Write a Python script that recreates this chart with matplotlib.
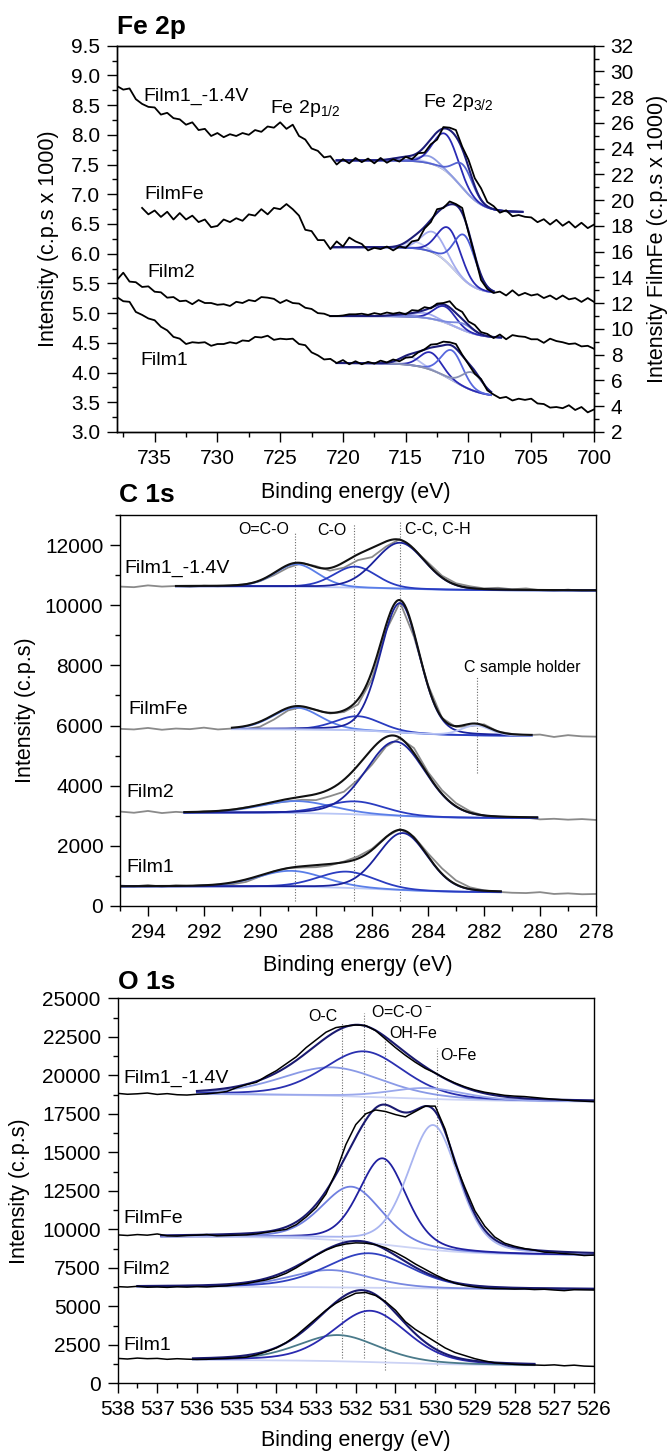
import numpy as np
import matplotlib
matplotlib.use("Agg")
import matplotlib.pyplot as plt
from matplotlib.ticker import MultipleLocator

plt.rcParams["font.family"] = ["Liberation Sans", "DejaVu Sans"]
plt.rcParams["mathtext.fontset"] = "custom"
plt.rcParams["mathtext.rm"] = "Liberation Sans"
plt.rcParams["mathtext.it"] = "Liberation Sans:italic"
plt.rcParams["axes.linewidth"] = 1.0

# ---------------- Fe 2p (measured, step 0.5 eV) ----------------
fe_energy = np.arange(738.0, 699.9, -0.5)
fe_film1v_raw = [8.82, 8.76, 8.78, 8.60, 8.52, 8.47, 8.46, 8.34, 8.37, 8.28,
                 8.26, 8.17, 8.21, 8.08, 8.10, 7.98, 8.03, 7.96, 8.01, 7.98,
                 8.03, 8.00, 8.08, 8.05, 8.14, 8.12, 8.21, 8.10, 8.17, 7.98,
                 7.92, 7.77, 7.73, 7.62, 7.64, 7.50, 7.59, 7.52, 7.61, 7.54,
                 7.60, 7.52, 7.61, 7.53, 7.59, 7.55, 7.63, 7.59, 7.69, 7.70,
                 7.84, 7.92, 8.13, 8.12, 8.08, 7.80, 7.58, 7.27, 7.10, 6.87,
                 6.80, 6.69, 6.73, 6.63, 6.65, 6.62, 6.61, 6.53, 6.58, 6.49,
                 6.57, 6.47, 6.54, 6.44, 6.52, 6.43, 6.49]
# FilmFe starts at 736 eV, right axis
fe_filmfe_raw = [19.4, 18.9, 19.2, 18.7, 19.1, 18.5, 19.0, 18.5, 18.8, 18.3,
                 18.5, 17.9, 18.0, 18.5, 18.3, 18.6, 18.4, 18.9, 18.8, 19.3,
                 18.9, 19.4, 19.3, 19.7, 19.3, 18.8, 17.7, 17.6, 16.9, 16.9,
                 16.2, 16.8, 16.4, 17.1, 16.8, 16.6, 16.1, 16.3, 16.2, 16.4,
                 16.1, 16.4, 16.3, 16.8, 16.9, 17.8, 18.3, 19.3, 19.4, 19.9,
                 19.7, 19.4, 17.5, 15.7, 13.8, 13.1, 12.8, 12.9, 12.6, 13.0,
                 12.6, 12.8, 12.6, 12.7, 12.4, 12.6, 12.3, 12.6, 12.3, 12.4,
                 12.1, 12.4, 12.1]
fe_film2_raw = [5.56, 5.68, 5.53, 5.52, 5.44, 5.45, 5.36, 5.35, 5.26, 5.27,
                5.20, 5.21, 5.15, 5.22, 5.17, 5.17, 5.14, 5.15, 5.12, 5.19,
                5.17, 5.22, 5.20, 5.27, 5.26, 5.24, 5.17, 5.22, 5.17, 5.16,
                5.09, 5.07, 5.00, 4.99, 4.95, 4.95, 4.96, 4.98, 4.98, 4.99,
                4.97, 5.00, 4.98, 5.01, 4.99, 5.01, 4.98, 5.05, 5.04, 5.10,
                5.08, 5.16, 5.17, 5.20, 5.08, 5.02, 4.86, 4.80, 4.68, 4.65,
                4.58, 4.64, 4.56, 4.63, 4.61, 4.60, 4.56, 4.56, 4.50, 4.57,
                4.53, 4.51, 4.48, 4.49, 4.44, 4.45, 4.40]
fe_film1_raw = [5.27, 5.20, 5.19, 5.02, 4.97, 4.91, 4.88, 4.77, 4.71, 4.60,
                4.57, 4.48, 4.51, 4.50, 4.51, 4.45, 4.48, 4.48, 4.51, 4.49,
                4.54, 4.53, 4.60, 4.59, 4.62, 4.55, 4.57, 4.56, 4.57, 4.48,
                4.46, 4.34, 4.29, 4.22, 4.23, 4.16, 4.21, 4.14, 4.19, 4.14,
                4.18, 4.15, 4.20, 4.17, 4.22, 4.19, 4.25, 4.26, 4.34, 4.39,
                4.47, 4.48, 4.52, 4.51, 4.48, 4.30, 4.14, 3.98, 3.89, 3.70,
                3.63, 3.57, 3.59, 3.53, 3.56, 3.54, 3.56, 3.48, 3.47, 3.41,
                3.42, 3.40, 3.45, 3.37, 3.42, 3.33, 3.38]

# fit results: background (high, low, centre, width), peaks (centre, height, fwhm)
fe_range = [(720.5, 705.7), (720.8, 708.0), (721.0, 707.4), (720.5, 708.2)]
fe_bg = [(7.57, 6.70, 710.6, 0.9), (16.35, 12.75, 711.1, 0.85),
         (4.95, 4.58, 711.0, 1.0), (4.16, 3.58, 711.3, 1.2)]
fe_peaks = [
    [(715.0, 0.06, 2.2), (713.2, 0.12, 1.8), (711.8, 0.62, 2.3), (710.4, 0.40, 1.8)],
    [(714.3, 0.5, 1.8), (712.8, 1.6, 2.2), (711.5, 2.8, 2.2), (710.3, 3.5, 2.0)],
    [(715.3, 0.03, 2.0), (713.5, 0.08, 2.0), (711.9, 0.27, 2.0), (710.4, 0.11, 1.8)],
    [(714.7, 0.14, 1.9), (713.0, 0.29, 2.0), (711.3, 0.50, 2.0), (709.7, 0.30, 1.9)],
]
fe_colors = [
    ["#c4cbf2", "#8d9be2", "#2a2ab4", "#5563d2"],
    ["#c4cbf2", "#a3abee", "#2a2ab4", "#4a5ad4"],
    ["#c4cbf2", "#a3abee", "#2a2ab4", "#7b8ade"],
    ["#b4bcf0", "#2a2ab4", "#5868de", "#8890b4"],
]
fe_labels = ["Film1_-1.4V", "FilmFe", "Film2", "Film1"]
fe_label_pos = [(735.9, 8.64), (735.8, 6.99), (735.6, 5.69), (736.1, 4.21)]

# ---------------- C 1s (step 0.5 eV) ----------------
c_energy = np.arange(295.0, 277.9, -0.5)
c_film1v_raw = [10620, 10600, 10660, 10620, 10640, 10610, 10650, 10630, 10660, 10700,
                10800, 11000, 11250, 11400, 11300, 11150, 11250, 11500, 11600, 11950,
                12200, 11850, 11420, 10980, 10730, 10630, 10560, 10580, 10530, 10560,
                10500, 10480, 10520, 10470, 10480]
c_filmfe_raw = [5890, 5870, 5920, 5860, 5900, 5880, 5930, 5870, 5900, 5880,
                5960, 6200, 6500, 6620, 6520, 6400, 6450, 6700, 7550, 9150,
                10100, 8950, 7350, 6250, 5950, 5980, 6040, 5800, 5720, 5680,
                5700, 5620, 5680, 5640, 5630]
c_film2_raw = [3140, 3100, 3160, 3090, 3130, 3100, 3150, 3160, 3200, 3280,
               3350, 3420, 3480, 3530, 3520, 3650, 3800, 4200, 4700, 5300,
               5580, 5250, 4450, 3850, 3420, 3150, 3000, 2960, 2920, 2940,
               2880, 2900, 2870, 2890, 2860]
c_film1_raw = [680, 650, 700, 640, 690, 660, 700, 680, 720, 800,
               980, 1150, 1260, 1280, 1290, 1350, 1480, 1650, 1900, 2300,
               2560, 2300, 1750, 1250, 850, 620, 520, 470, 440, 430,
               460, 400, 420, 390, 400]

c_range = [(293.0, 278.0), (291.0, 280.3), (292.7, 280.1), (295.0, 281.4)]
c_bg = [(10630, 10490, 285.5, 1.5), (5880, 5660, 285.0, 1.0),
        (3100, 2920, 285.5, 1.2), (650, 450, 285.5, 1.2)]
c_peaks = [
    [(288.7, 750, 1.8), (286.6, 700, 1.8), (285.0, 1530, 2.1)],
    [(288.7, 720, 2.0), (286.5, 470, 1.9), (285.0, 4300, 1.65), (282.3, 330, 1.2)],
    [(288.7, 400, 3.0), (286.6, 430, 2.5), (285.15, 2470, 2.5)],
    [(288.9, 530, 2.8), (286.9, 540, 2.4), (284.9, 1900, 2.1)],
]
c_colors = [
    ["#5a7ee8", "#2a3cc0", "#1a229c"],
    ["#5a7ee8", "#2a3cc0", "#1a229c", "#b8c4f4"],
    ["#5a7ee8", "#2a3cc0", "#1a229c"],
    ["#5a7ee8", "#2a3cc0", "#1a229c"],
]
c_label_pos = [(294.84, 11236), (294.69, 6539), (294.76, 3764), (294.76, 1292)]
c_marks = ["O=C-O", "C-O", "C-C, C-H", "C sample holder"]
c_mark_pos = [(289.85, 12528), (287.42, 12472), (284.81, 12528), (280.63, 7944)]
c_mark_ha = ["center", "center", "left", "center"]
c_lines = [(288.74, 169, 12416), (286.64, 169, 12697), (285.0, 169, 12809), (282.26, 4438, 7640)]

# ---------------- O 1s (step 0.25 eV) ----------------
o_energy = np.arange(538.0, 525.9, -0.25)
o_film1v_raw = [18830, 18770, 18800, 18850, 18760, 18810, 18740, 18720, 18770, 18800,
                18860, 18950, 19200, 19400, 19550, 19950, 20300, 20750, 21200, 21800,
                22300, 22800, 23100, 23200, 23270, 23230, 22900, 22350, 21800, 21300,
                20850, 20450, 20150, 19800, 19500, 19250, 19050, 18900, 18800, 18700,
                18650, 18620, 18560, 18500, 18450, 18400, 18350, 18320, 18290]
o_filmfe_raw = [9640, 9600, 9660, 9620, 9700, 9580, 9560, 9600, 9620, 9660,
                9580, 9600, 9620, 9640, 9700, 9800, 9900, 10000, 10300, 10800,
                11400, 12300, 13700, 15500, 16800, 17500, 17750, 17650, 17450, 17300,
                17650, 18000, 18000, 16500, 14300, 12700, 11200, 10200, 9500, 9100,
                8900, 8750, 8650, 8520, 8480, 8420, 8380, 8300, 8330]
o_film2_raw = [6280, 6250, 6300, 6240, 6260, 6230, 6270, 6250, 6280, 6260,
               6300, 6330, 6400, 6480, 6600, 6720, 6900, 7150, 7500, 7900,
               8300, 8650, 8900, 9050, 9120, 9100, 9000, 8800, 8500, 8150,
               7750, 7400, 7050, 6750, 6500, 6350, 6250, 6180, 6150, 6140,
               6120, 6130, 6090, 6110, 6060, 6020, 6080, 6070, 6060]
o_film1_raw = [1620, 1580, 1640, 1600, 1620, 1560, 1600, 1570, 1550, 1560,
               1600, 1620, 1650, 1700, 1850, 2050, 2300, 2650, 3100, 3650,
               4200, 4750, 5200, 5550, 5850, 5900, 5700, 5300, 4750, 4000,
               3500, 3100, 2700, 2300, 2000, 1800, 1600, 1450, 1330, 1280,
               1230, 1200, 1190, 1170, 1200, 1140, 1180, 1120, 1100]

o_range = [(536.0, 526.0), (536.9, 526.0), (537.5, 526.0), (536.1, 527.5)]
o_bg = [(18800, 18280, 531.0, 1.5), (9520, 8330, 531.0, 1.0),
        (6270, 6100, 531.0, 1.2), (1520, 1150, 531.0, 1.2)]
o_peaks = [
    [(532.6, 1850, 3.0), (531.8, 2950, 2.4), (530.2, 700, 2.2)],
    [(532.1, 3545, 1.8), (531.32, 5590, 1.4), (530.05, 8110, 1.5)],
    [(532.65, 1120, 2.4), (531.68, 2240, 2.5)],
    [(532.44, 1700, 2.4), (531.64, 3330, 2.2)],
]
o_colors = [
    ["#8a9ae6", "#2a30b0", "#9aa8ec"],
    ["#7080e0", "#2020a0", "#a8b4f0"],
    ["#7888e0", "#3040c0"],
    ["#4a7a8a", "#2a2ab0"],
]
o_label_pos = [(537.84, 19805), (537.84, 10714), (537.89, 7403), (537.84, 2489)]
o_marks = ["O-C", r"O=C-O$^{\rm -}$", "OH-Fe", "O-Fe"]
o_mark_pos = [(532.83, 23810), (531.62, 24134), (531.16, 22684), (529.87, 21277)]
o_mark_ha = ["center", "left", "left", "left"]
o_lines = [(532.35, 1623, 23485), (531.79, 1623, 24026), (531.27, 866, 22511), (529.96, 1190, 21753)]


def peak(x, c, h, w, eta=0.0):
    g = np.exp(-4 * np.log(2) * ((x - c) / w) ** 2)
    lz = 1.0 / (1.0 + 4 * ((x - c) / w) ** 2)
    return h * (eta * lz + (1 - eta) * g)


def step_bg(x, hi, lo, c, w):
    return lo + (hi - lo) / (1 + np.exp(-(x - c) / w))


def draw_fit(ax, rng, bg, peaks, colors, bg_color, env_color, eta=0.0, lw=1.3):
    x = np.linspace(rng[0], rng[1], 400)
    b = step_bg(x, *bg)
    ax.plot(x, b, color=bg_color, lw=lw)
    total = b.copy()
    for (c, h, w), col in zip(peaks, colors):
        p = peak(x, c, h, w, eta)
        ax.plot(x, b + p, color=col, lw=lw)
        total += p
    ax.plot(x, total, color=env_color, lw=1.5)


def style_axis(ax):
    ax.tick_params(which="major", direction="out", length=7, width=1.0, labelsize=15, pad=5)
    ax.tick_params(which="minor", direction="out", length=3.6, width=1.0)
    ax.tick_params(top=False, right=False, which="both")


fig = plt.figure(figsize=(6.70, 14.54), dpi=100)

# ---------------- Fe 2p panel ----------------
ax1 = fig.add_axes([0.1746, 0.7029, 0.712, 0.2657])
ax1r = ax1.twinx()
ax1.set_xlim(738, 700)
ax1.set_ylim(3.0, 9.5)
ax1r.set_ylim(2, 32)
fe_raw = [fe_film1v_raw, fe_filmfe_raw, fe_film2_raw, fe_film1_raw]
for i in range(4):
    target = ax1r if i == 1 else ax1
    draw_fit(target, fe_range[i], fe_bg[i], fe_peaks[i], fe_colors[i], "#8e8e8e", "#1c1c78")
    x = fe_energy[4:] if i == 1 else fe_energy
    target.plot(x, fe_raw[i], color="black", lw=1.3)
    ax1.text(fe_label_pos[i][0], fe_label_pos[i][1], fe_labels[i], fontsize=14, ha="left", va="center")
ax1.text(725.8, 8.44, r"Fe 2p$_{\rm 1/2}$", fontsize=14, ha="left", va="center")
ax1.text(713.6, 8.54, r"Fe 2p$_{\rm 3/2}$", fontsize=14, ha="left", va="center")
ax1.xaxis.set_major_locator(MultipleLocator(5))
ax1.xaxis.set_minor_locator(MultipleLocator(2.5))
ax1.yaxis.set_major_locator(MultipleLocator(0.5))
ax1.yaxis.set_minor_locator(MultipleLocator(0.25))
ax1.yaxis.set_major_formatter(plt.FormatStrFormatter("%.1f"))
style_axis(ax1)
ax1r.yaxis.set_major_locator(MultipleLocator(2))
ax1r.yaxis.set_minor_locator(MultipleLocator(1))
ax1r.tick_params(which="major", direction="out", length=7, width=1.0, labelsize=15, pad=5)
ax1r.tick_params(which="minor", direction="out", length=3.6, width=1.0)
fig.text(0.1746, 0.9814, "Fe 2p", fontsize=19, fontweight="bold", ha="left", va="center")
fig.text(0.073, 0.8358, "Intensity (c.p.s x 1000)", fontsize=15.5, rotation=90, ha="center", va="center")
fig.text(0.982, 0.8358, "Intensity FilmFe (c.p.s x 1000)", fontsize=15.5, rotation=90, ha="center", va="center")
fig.text(0.5306, 0.661, "Binding energy (eV)", fontsize=15.5, ha="center", va="center")

# ---------------- C 1s panel ----------------
ax2 = fig.add_axes([0.179, 0.3769, 0.7106, 0.2689])
ax2.set_xlim(295, 278)
ax2.set_ylim(0, 13000)
c_raw = [c_film1v_raw, c_filmfe_raw, c_film2_raw, c_film1_raw]
for e, y0, y1 in c_lines:
    ax2.plot([e, e], [y0, y1], color="#6a6a6a", lw=0.8, ls=(0, (1, 1.5)))
for i in range(4):
    ax2.plot(c_energy, c_raw[i], color="#8a8a8a", lw=1.3)
    draw_fit(ax2, c_range[i], c_bg[i], c_peaks[i], c_colors[i], "#b8c6f6", "#111111", eta=0.15)
    ax2.text(c_label_pos[i][0], c_label_pos[i][1], fe_labels[i], fontsize=14, ha="left", va="center")
for txt, (e, y), ha in zip(c_marks, c_mark_pos, c_mark_ha):
    ax2.text(e, y, txt, fontsize=11.5, ha=ha, va="center")
ax2.xaxis.set_major_locator(MultipleLocator(2))
ax2.xaxis.set_minor_locator(MultipleLocator(1))
ax2.yaxis.set_major_locator(MultipleLocator(2000))
ax2.yaxis.set_minor_locator(MultipleLocator(1000))
style_axis(ax2)
fig.text(0.1776, 0.6596, "C 1s", fontsize=19, fontweight="bold", ha="left", va="center")
fig.text(0.038, 0.5113, "Intensity (c.p.s)", fontsize=15.5, rotation=90, ha="center", va="center")
fig.text(0.5343, 0.3363, "Binding energy (eV)", fontsize=15.5, ha="center", va="center")

# ---------------- O 1s panel ----------------
ax3 = fig.add_axes([0.1754, 0.0486, 0.7112, 0.2648])
ax3.set_xlim(538, 526)
ax3.set_ylim(0, 25000)
o_raw = [o_film1v_raw, o_filmfe_raw, o_film2_raw, o_film1_raw]
for e, y0, y1 in o_lines:
    ax3.plot([e, e], [y0, y1], color="#6a6a6a", lw=0.8, ls=(0, (1, 1.5)))
for i in range(4):
    draw_fit(ax3, o_range[i], o_bg[i], o_peaks[i], o_colors[i], "#ccd3f5", "#1a1a70", eta=0.3)
    ax3.plot(o_energy, o_raw[i], color="black", lw=1.1)
    ax3.text(o_label_pos[i][0], o_label_pos[i][1], fe_labels[i], fontsize=14, ha="left", va="center")
for txt, (e, y), ha in zip(o_marks, o_mark_pos, o_mark_ha):
    ax3.text(e, y, txt, fontsize=11.5, ha=ha, va="center")
ax3.xaxis.set_major_locator(MultipleLocator(1))
ax3.xaxis.set_minor_locator(MultipleLocator(0.5))
ax3.yaxis.set_major_locator(MultipleLocator(2500))
ax3.yaxis.set_minor_locator(MultipleLocator(1250))
style_axis(ax3)
fig.text(0.1761, 0.3246, "O 1s", fontsize=19, fontweight="bold", ha="left", va="center")
fig.text(0.029, 0.181, "Intensity (c.p.s)", fontsize=15.5, rotation=90, ha="center", va="center")
fig.text(0.5311, 0.0096, "Binding energy (eV)", fontsize=15.5, ha="center", va="center")

fig.savefig("out.png", dpi=100)
